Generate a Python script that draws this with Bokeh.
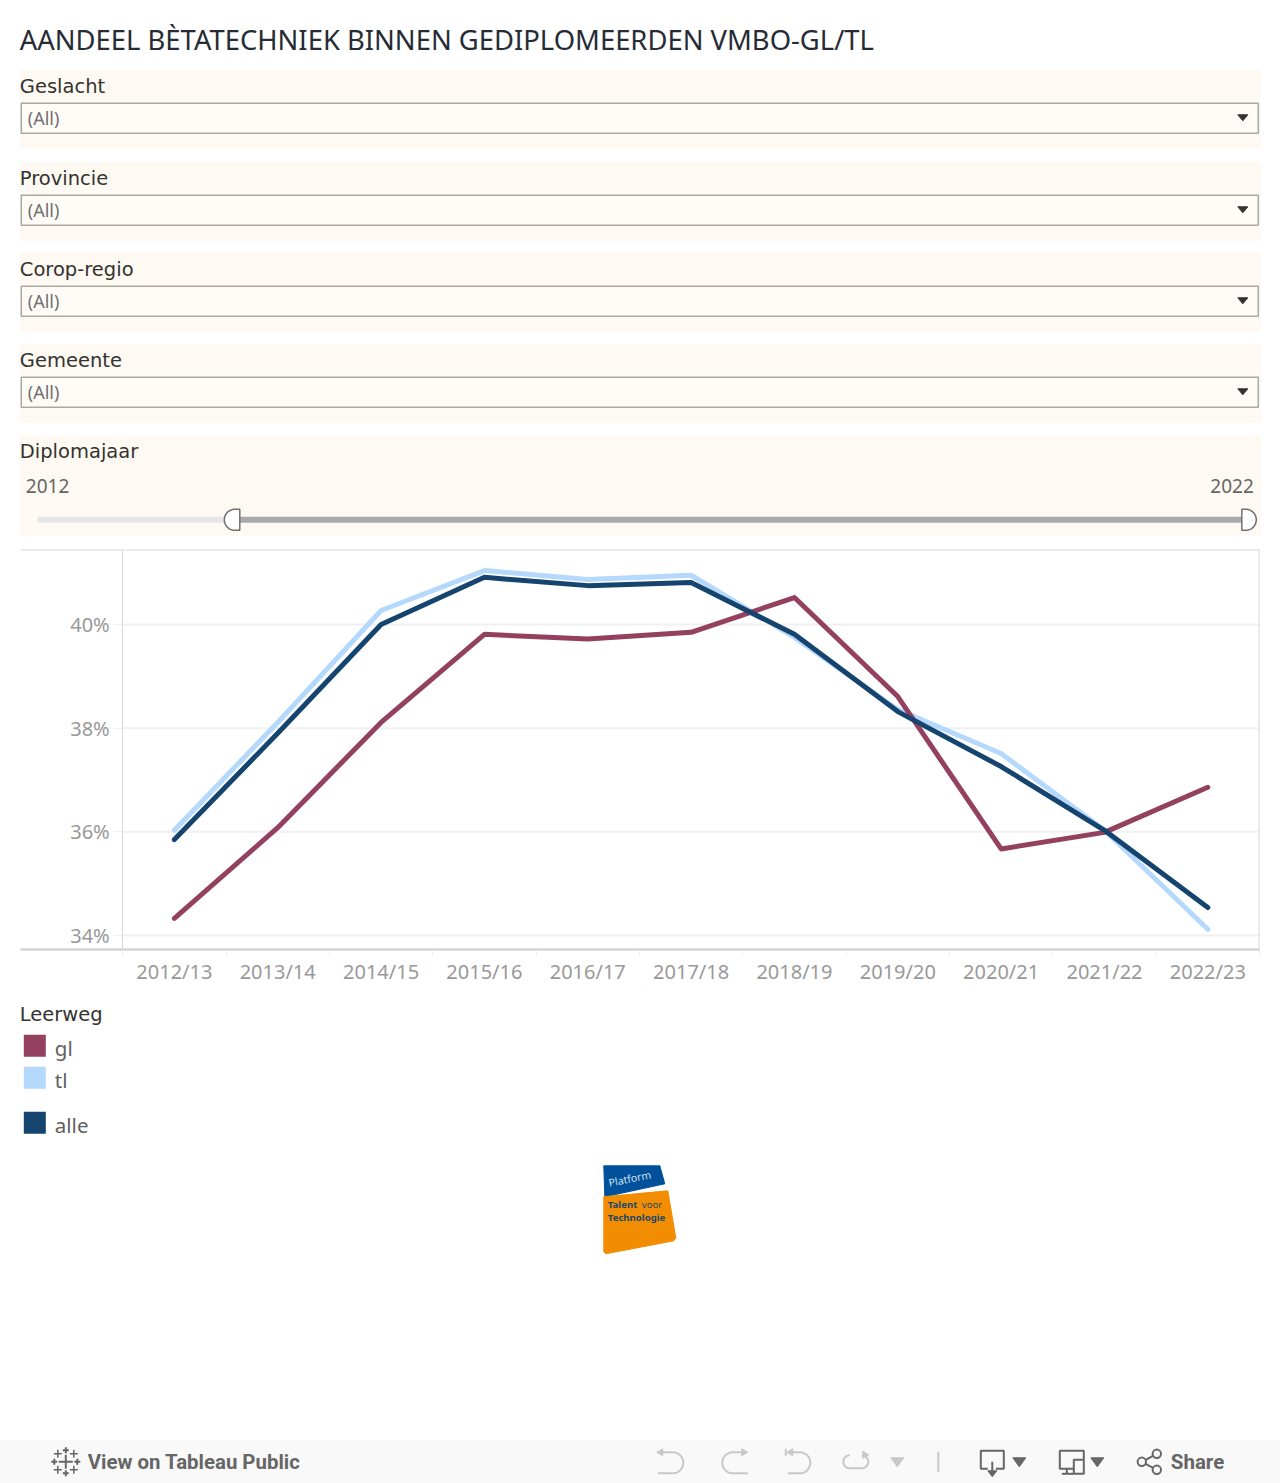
import numpy as np
from bokeh.core.properties import value
from bokeh.embed import file_html
from bokeh.layouts import column
from bokeh.models import FixedTicker, LinearAxis, Range1d
from bokeh.plotting import figure
from bokeh.resources import INLINE

TITLE = "AANDEEL BÈTATECHNIEK BINNEN GEDIPLOMEERDEN VMBO-GL/TL"
FILTERS = ["Geslacht", "Provincie", "Corop-regio", "Gemeente"]
FILTER_VALUE = "(All)"
SLIDER_NAME = "Diplomajaar"
SLIDER_MIN = "2012"
SLIDER_MAX = "2022"

years = ["2012/13", "2013/14", "2014/15", "2015/16", "2016/17", "2017/18",
         "2018/19", "2019/20", "2020/21", "2021/22", "2022/23"]
gl = [34.33, 36.08, 38.11, 39.81, 39.72, 39.85, 40.52, 38.61, 35.67, 35.99, 36.86]
tl = [36.03, 38.11, 40.27, 41.04, 40.87, 40.95, 39.75, 38.36, 37.51, 36.03, 34.12]
alle = [35.85, 37.90, 40.00, 40.91, 40.75, 40.81, 39.81, 38.32, 37.26, 36.03, 34.54]
y_ticks = [34, 36, 38, 40]
legend_title = "Leerweg"
legend_names = ["gl", "tl", "alle"]
legend_colors = ["#94405f", "#b5d8fd", "#15456f"]

LABEL_FONT = "DejaVu Sans"
BODY_FONT = "Noto Sans"
PAGE_W = 1280
PANEL = "#fef9f2"


def chrome(top, bottom):
    """A figure whose data coordinates are the page's pixels."""
    f = figure(width=PAGE_W, height=bottom - top, x_range=Range1d(0.7, PAGE_W + 0.7),
               y_range=Range1d(bottom + 0.7, top + 0.7), toolbar_location=None,
               output_backend="svg", min_border=0, frame_align=False,
               x_axis_location=None, y_axis_location=None)
    f.grid.visible = False
    f.outline_line_color = None
    return f


def txt(f, x, y, s, size, color, font=BODY_FONT, align="left", style="normal", angle=0.0):
    f.text([x], [y], text=[s], text_font=value(font), text_font_size=f"{size}px",
           text_color=color, text_align=align, text_baseline="middle",
           text_font_style=style, angle=angle)


def rect(f, x0, y0, x1, y1, fill, line=None, lw=1.0):
    f.quad(left=[x0], right=[x1], top=[y0], bottom=[y1], fill_color=fill,
           line_color=line, line_width=lw)


def arc_pts(cx, cy, r, a0, a1):
    t = np.radians(np.linspace(a0, a1, 30))
    return list(cx + r * np.cos(t)), list(cy + r * np.sin(t))


# ---------- header: title, filters, slider ----------
head = chrome(0, 549)
txt(head, 20, 40, TITLE, 27.4, "#262b36")
panel_tops = [70, 162, 253, 344]
for name, top in zip(FILTERS, panel_tops):
    rect(head, 20, top, 1261, top + 79, PANEL)
    txt(head, 20, top + 17, name, 19.5, "#333330", LABEL_FONT)
    rect(head, 21.5, top + 33.5, 1258.5, top + 63.5, "#fffcf8", "#a9a9a0", 1.5)
    txt(head, 28, top + 48, FILTER_VALUE, 18, "#707070")
    head.patch([1238, 1248, 1243], [top + 45, top + 45, top + 51], color="#333333")

rect(head, 20, 435, 1261, 536, PANEL)
txt(head, 20, 452, SLIDER_NAME, 19.5, "#333330", LABEL_FONT)
txt(head, 26, 486, SLIDER_MIN, 19, "#666666", BODY_FONT)
txt(head, 1254, 486, SLIDER_MAX, 19, "#666666", BODY_FONT, align="right")
rect(head, 38, 517, 232, 523, "#e6e6e6")
rect(head, 232, 517, 1243, 523, "#aaaaaa")
xs, ys = arc_pts(235, 520, 10.5, 90, 270)
head.patch([240, 235] + xs + [240], [530.5, 530.5] + ys + [509.5], fill_color="#ffffff",
           line_color="#707070", line_width=1.5)
xs, ys = arc_pts(1246, 520, 10.5, -90, 90)
head.patch([1242, 1246] + xs + [1242], [509.5, 509.5] + ys + [530.5], fill_color="#ffffff",
           line_color="#707070", line_width=1.5)

# ---------- the chart ----------
Y_LOW, Y_HIGH = 33.73, 41.447
X_LEFT, X_RIGHT = -1.489, 10.5
positions = list(range(len(years)))
chart = figure(width=PAGE_W, height=446, x_range=Range1d(X_LEFT, X_RIGHT),
               y_range=Range1d(Y_LOW, Y_HIGH), toolbar_location=None,
               output_backend="svg", x_axis_location=None, y_axis_location=None,
               frame_align=False,
               min_border_left=20, min_border_right=21, min_border_top=0, min_border_bottom=46)
chart.outline_line_color = None
chart.grid.visible = False
chart.background_fill_color = None
chart.border_fill_color = None

xa = LinearAxis(ticker=FixedTicker(ticks=positions, minor_ticks=[i - 0.5 for i in range(len(years) + 1)]),
                major_label_overrides={i: y for i, y in enumerate(years)})
xa.axis_line_color = "#cccccc"
xa.axis_line_width = 2
xa.major_tick_line_color = None
xa.minor_tick_line_color = "#f0f0f0"
xa.minor_tick_out = 7
xa.minor_tick_in = 0
xa.major_label_text_font = BODY_FONT
xa.major_label_text_font_size = "20px"
xa.major_label_text_color = "#999999"
xa.major_label_standoff = 1
chart.add_layout(xa, "below")

ya = LinearAxis(ticker=FixedTicker(ticks=y_ticks),
                major_label_overrides={t: f"{t}%" for t in y_ticks}, fixed_location=-0.5)
ya.axis_line_color = "#d8d8d8"
ya.axis_line_width = 1
ya.major_tick_line_color = "#f0f0f0"
ya.major_tick_out = 9
ya.major_tick_in = 0
ya.minor_tick_line_color = None
ya.major_label_text_font = BODY_FONT
ya.major_label_text_font_size = "20px"
ya.major_label_text_color = "#999999"
ya.major_label_standoff = 4
chart.add_layout(ya, "left")

chart.segment(x0=[-0.5] * len(y_ticks), x1=[X_RIGHT] * len(y_ticks), y0=y_ticks, y1=y_ticks,
              line_color="#f0f0f0", line_width=2)
chart.line([X_LEFT, X_RIGHT], [Y_HIGH, Y_HIGH], line_color="#d8d8d8", line_width=2)
chart.line([X_RIGHT, X_RIGHT], [Y_LOW, Y_HIGH], line_color="#d8d8d8", line_width=2)

chart.line(positions, tl, line_color=legend_colors[1], line_width=5, line_join="round", line_cap="round")
chart.line(positions, gl, line_color=legend_colors[0], line_width=5, line_join="round", line_cap="round")
chart.line(positions, alle, line_color=legend_colors[2], line_width=5, line_join="round", line_cap="round")

# ---------- below: legend, logo, footer ----------
foot = chrome(995, 1483)
txt(foot, 20, 1015, legend_title, 19.5, "#333330", LABEL_FONT)
for name, colour, ytop in zip(legend_names, legend_colors, [1035, 1067, 1112]):
    rect(foot, 24, ytop, 46, ytop + 22, colour)
    txt(foot, 55, ytop + 13.5, name, 20.5, "#606060", BODY_FONT)

# logo
foot.patch([604, 660, 665, 605], [1166, 1166, 1184, 1197], color="#00509c")
foot.patch([604, 668, 676, 674, 606, 604], [1197, 1191, 1238, 1241, 1254, 1252], color="#f28c00")
txt(foot, 609, 1183, "Platform", 10.5, "#cfe0f0", BODY_FONT, angle=0.2)
txt(foot, 608, 1205, "Talent", 9.6, "#164a72", BODY_FONT, style="bold")
txt(foot, 642, 1205, "voor", 9.6, "#164a72", BODY_FONT)
txt(foot, 608, 1218, "Technologie", 9.6, "#164a72", BODY_FONT, style="bold")

# toolbar band
rect(foot, 0, 1440, 1281, 1484, "#f9f9f9")
GREY = "#666666"
LIGHT = "#c8c8c8"
for cx, cy, arm, w in [(66, 1462, 7, 2), (66, 1450.5, 3, 2), (66, 1473.5, 3, 2), (54.5, 1462, 3, 2),
                       (77.5, 1462, 3, 2), (58, 1454, 4, 1.5), (74, 1454, 4, 1.5),
                       (58, 1470, 4, 1.5), (74, 1470, 4, 1.5)]:
    foot.segment(x0=[cx - arm, cx], x1=[cx + arm, cx], y0=[cy, cy - arm], y1=[cy, cy + arm],
                 line_color=GREY, line_width=w)
txt(foot, 88, 1462, "View on Tableau Public", 20.4, GREY, "Roboto", style="bold")

# undo
xs, ys = arc_pts(673, 1463, 10.5, -90, 90)
foot.line([660] + xs + [658], [1452.5] + ys + [1473.5], line_color=LIGHT, line_width=2)
foot.patch([657, 663, 663], [1452.5, 1449, 1456], color=LIGHT)
# redo
xs, ys = arc_pts(733, 1463, 10.5, 270, 90)
foot.line([746] + xs + [748], [1452.5] + ys + [1473.5], line_color=LIGHT, line_width=2)
foot.patch([748, 742, 742], [1452.5, 1449, 1456], color=LIGHT)
# revert
xs, ys = arc_pts(800, 1463, 10.5, -90, 90)
foot.line([790] + xs + [788], [1452.5] + ys + [1473.5], line_color=LIGHT, line_width=2)
foot.patch([787, 793, 793], [1452.5, 1449, 1456], color=LIGHT)
foot.line([786, 786], [1449, 1456], line_color=LIGHT, line_width=2)
# refresh
xs, ys = arc_pts(850, 1462, 6.5, 270, 90)
xs2, ys2 = arc_pts(862, 1462, 6.5, 90, -90)
foot.line(xs + xs2, ys + ys2, line_color=LIGHT, line_width=2)
foot.patch([869, 863, 863], [1455, 1451.5, 1458.5], color=LIGHT)
foot.patch([891, 904, 897.5], [1458, 1458, 1467], color=LIGHT)
foot.line([938.5, 938.5], [1452, 1472], line_color=LIGHT, line_width=2)
# download
foot.line([988, 981, 981, 1004, 1004, 996], [1469, 1469, 1451, 1451, 1469, 1469], line_color=GREY, line_width=2)
foot.line([992.5, 992.5], [1462, 1474], line_color=GREY, line_width=2)
foot.patch([988, 997, 992.5], [1471, 1471, 1477], color=GREY)
foot.patch([1013, 1026, 1019.5], [1458, 1458, 1467], color=GREY)
# device
foot.line([1074, 1060, 1060, 1084, 1084], [1469, 1469, 1451, 1451, 1460], line_color=GREY, line_width=2)
foot.line([1067, 1067], [1469, 1474], line_color=GREY, line_width=2)
foot.line([1062, 1074], [1474, 1474], line_color=GREY, line_width=2)
rect(foot, 1074, 1460, 1084, 1474, "#f9f9f9", GREY, 2)
foot.patch([1091, 1104, 1097.5], [1458, 1458, 1467], color=GREY)
# share
foot.line([1157, 1142, 1157], [1454, 1462, 1470], line_color=GREY, line_width=2)
foot.circle([1142, 1157, 1157], [1462, 1454, 1470], radius=4.2, fill_color="#f9f9f9", line_color=GREY, line_width=2)
txt(foot, 1171, 1462, "Share", 20.5, GREY, "Roboto", style="bold")

page = column(head, chart, foot, spacing=0)
open("out.html", "w").write(file_html(page, INLINE))
